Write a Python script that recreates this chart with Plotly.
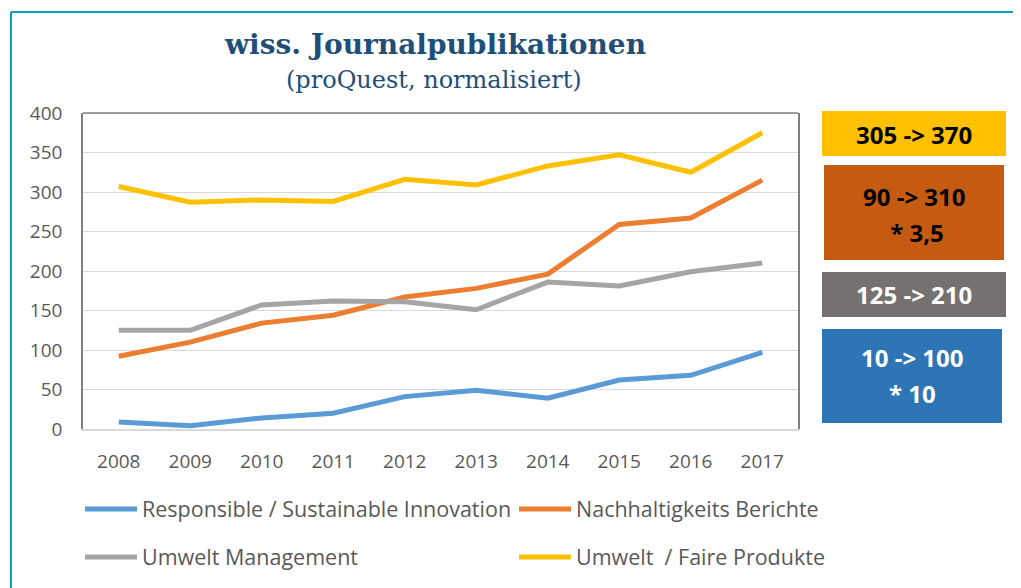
import plotly.graph_objects as go

# ---------------- data ----------------
years = ["2008", "2009", "2010", "2011", "2012", "2013", "2014", "2015", "2016", "2017"]
series_names = [
    "Responsible / Sustainable Innovation",
    "Nachhaltigkeits Berichte",
    "Umwelt Management",
    "Umwelt  / Faire Produkte",
]
responsible = [9, 4, 14, 20, 41, 49, 39, 62, 68, 97]
nachhaltigkeit = [92, 110, 134, 144, 167, 178, 196, 259, 267, 315]
umwelt_mgmt = [125, 125, 157, 162, 161, 151, 186, 181, 199, 210]
faire_produkte = [307, 287, 290, 288, 316, 309, 333, 347, 325, 375]
series_values = [responsible, nachhaltigkeit, umwelt_mgmt, faire_produkte]
series_colors = ["#5b9bd5", "#ed7d31", "#a5a5a5", "#ffc000"]

y_ticks = [0, 50, 100, 150, 200, 250, 300, 350, 400]

title_text = "wiss. Journalpublikationen"
subtitle_text = "(proQuest, normalisiert)"

box_lines = [["305 -> 370"], ["90 -> 310", " * 3,5"], ["125 -> 210"], ["10 -> 100", "* 10"]]
box_fill = ["#ffc000", "#c55a11", "#767171", "#2e75b6"]
box_text_color = ["#000000", "#000000", "#ffffff", "#ffffff"]

side_letters = ["b", "v", "s", "e", "e"]

# ---------------- layout helpers (reference pixel -> paper) ----------------
OFF = 8  # page body margin of the html page
PAGE_W, PAGE_H = 1021, 588
FW, FH = PAGE_W - OFF, PAGE_H - OFF
L, R, T, B = 83, 798, 113, 429
PW, PH = R - L, B - T


def px_x(px):
    return (px - L) / PW


def px_y(py):
    return (B - py) / PH


fig = go.Figure()
legend_ids = ["legend", "legend2", "legend3", "legend4"]
for name, vals, col, lg in zip(series_names, series_values, series_colors, legend_ids):
    fig.add_trace(go.Scatter(
        x=years, y=vals, name=name, mode="lines",
        line=dict(color=col, width=5),
        legend=lg,
    ))

shapes = []
annotations = []

# frame top line
shapes.append(dict(type="line", xref="paper", yref="paper", x0=0, x1=1, y0=1, y1=1,
                   line=dict(color="#7f7f7f", width=1.5)))

# teal outer frame (slide element)
teal = "#0e9fc6"
shapes.append(dict(type="line", xref="paper", yref="paper",
                   x0=px_x(11), x1=px_x(11), y0=px_y(12), y1=px_y(600),
                   line=dict(color=teal, width=2)))
shapes.append(dict(type="line", xref="paper", yref="paper",
                   x0=px_x(11), x1=px_x(1030), y0=px_y(12), y1=px_y(12),
                   line=dict(color=teal, width=2)))

# boxes on right
box_px = [(822, 1006, 111, 156), (824, 1004, 165, 260), (822, 1006, 272, 317), (822, 1002, 329, 423)]
box_line_y = [[134], [196, 232], [294], [357, 393]]
for (x0, x1, y0, y1), fill, tc, lines, ys in zip(box_px, box_fill, box_text_color, box_lines, box_line_y):
    shapes.append(dict(type="rect", xref="paper", yref="paper",
                       x0=px_x(x0), x1=px_x(x1), y0=px_y(y0), y1=px_y(y1),
                       fillcolor=fill, line=dict(width=0)))
    for txt, yy in zip(lines, ys):
        annotations.append(dict(xref="paper", yref="paper", x=px_x((x0 + x1) / 2), y=px_y(yy),
                                text="<b>" + txt + "</b>", showarrow=False,
                                xanchor="center", yanchor="middle",
                                font=dict(family="Open Sans", size=24, color=tc)))

# title
annotations.append(dict(xref="paper", yref="paper", x=px_x(435), y=px_y(45),
                        text="<b>" + title_text + "</b>", showarrow=False,
                        xanchor="center", yanchor="middle",
                        font=dict(family="DejaVu Serif", size=28, color="#1f4e79")))
annotations.append(dict(xref="paper", yref="paper", x=px_x(434), y=px_y(80),
                        text=subtitle_text, showarrow=False,
                        xanchor="center", yanchor="middle",
                        font=dict(family="DejaVu Serif", size=24, color="#1f4e79")))

# clipped letters at the left edge (background slide text)
letter_y = [52, 107, 163, 222, 284]
for ch, yy in zip(side_letters, letter_y):
    annotations.append(dict(xref="paper", yref="paper", x=px_x(10), y=px_y(yy),
                            text=ch, showarrow=False, xanchor="right", yanchor="middle",
                            font=dict(family="Open Sans", size=30, color="#1a9cc4")))

tick_font = dict(family="Open Sans", size=19, color="#595959")
legend_font = dict(family="Open Sans", size=21.5, color="#595959")

legend_pos = [(80, 509), (514, 509), (80, 557), (514, 557)]
legend_layout = {}
for lg, (lx, ly) in zip(legend_ids, legend_pos):
    legend_layout[lg] = dict(orientation="h", x=px_x(lx), xanchor="left", y=px_y(ly), yanchor="middle",
                             itemwidth=52, bgcolor="rgba(0,0,0,0)", font=legend_font)

fig.update_layout(
    width=FW, height=FH,
    margin=dict(l=L - OFF, r=PAGE_W - R, t=T - OFF, b=PAGE_H - B, autoexpand=False),
    paper_bgcolor="white", plot_bgcolor="white",
    shapes=shapes, annotations=annotations,
    xaxis=dict(type="category", range=[-0.5, 9.5], showgrid=False, showline=True,
               linecolor="#d9d9d9", linewidth=2,
               ticks="", tickfont=tick_font, ticklabelstandoff=14, fixedrange=True),
    yaxis=dict(range=[0, 400], tickvals=y_ticks, showgrid=True, gridcolor="#d9d9d9", gridwidth=1,
               showline=True, mirror=True, linecolor="#7f7f7f", linewidth=1.5,
               zeroline=False, ticks="", tickfont=tick_font, ticklabelstandoff=15, fixedrange=True),
    showlegend=True,
    **legend_layout,
)

fig.write_html("out.html")
